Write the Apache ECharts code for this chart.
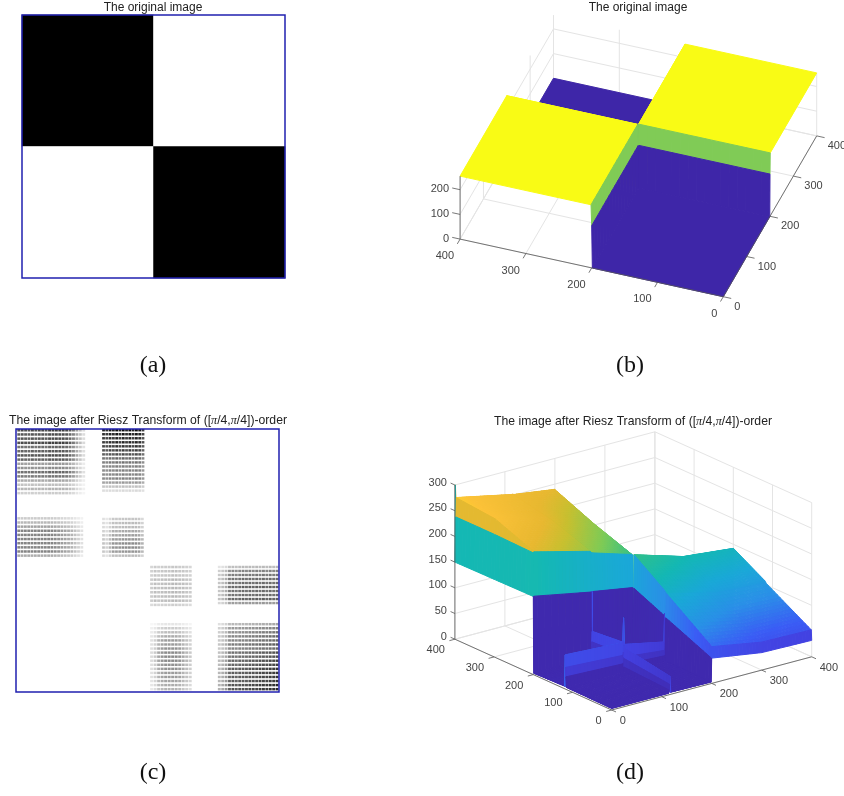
<!DOCTYPE html>
<html><head><meta charset="utf-8">
<style>html,body{margin:0;padding:0;background:#fff}#c{width:844px;height:796px;filter:blur(0.45px)}</style>
<script src="https://cdn.jsdelivr.net/npm/echarts@6/dist/echarts.min.js"></script>
</head><body><div id="c"></div>
<script>
// ---- Panel (a): original image, 2x2 checker
const aCols = ['left', 'right'];
const aRows = ['top', 'bottom'];
const aImage = [[0, 255], [255, 0]];

// ---- Panel (b): surface of the original image
const bA = [0, 199, 200, 201, 400];
const bB = [0, 199, 200, 201, 400];
const bZ = [
  [0, 0, 171, 255, 255],
  [0, 0, 171, 255, 255],
  [171, 171, 0, 255, 255],
  [255, 255, 255, 0, 0],
  [255, 255, 255, 0, 0]
];
const bTicksXY = [0, 100, 200, 300, 400];
const bTicksZ = [0, 100, 200];

// ---- Panel (c): dot blocks [x0,x1,y0,y1], row darkness, column darkness
const cRanges = [[2,106,0,102],[131,196,0,98],[2,103,134,197],[131,195,135,197],[204,268,208,272],[307,400,208,269],[204,268,295,400],[307,400,295,400]];
const cRowLevels = [
  [.75,.7,.7,.75,.6,.65,.7,.65,.4,.45,.6,.55,.35,.25,.3,.2],
  [.95,.9,.85,.85,.8,.75,.7,.6,.55,.5,.5,.5,.5,.4,.25,.15],
  [.25,.35,.45,.6,.6,.6,.6,.6,.6,.4],
  [.3,.35,.35,.45,.5,.55,.6,.6,.55,.35],
  [.4,.45,.45,.5,.5,.5,.5,.5,.5,.35],
  [.3,.55,.6,.65,.65,.7,.65,.65,.7,.45],
  [.15,.3,.4,.5,.6,.6,.65,.7,.7,.7,.65,.65,.6,.6,.55,.5,.45],
  [.35,.5,.55,.6,.6,.65,.6,.7,.7,.75,.75,.8,.8,.8,.8,.85,.85]
];
const cColLevels = [
  [.9,.95,.9,.9,.95,.9,.95,.95,.9,1,1,1,1,1,.95,.85,.7,.5,.35,.2],
  [.9,.85,.95,.9,1,.9,1,.9,1,.9,1,.95,.8],
  [.8,.8,.8,.8,.8,.8,.8,.8,.8,.8,.8,.75,.7,.65,.6,.55,.5,.4,.3,.2],
  [.4,.3,.5,.7,.7,.7,.75,.75,.75,.75,.75,.7,.5],
  [.4,.5,.45,.5,.5,.5,.55,.55,.5,.5,.45,.4],
  [.35,.4,.5,.8,.85,.8,.85,.9,.85,.9,.85,.9,.85,.9,.85,.9,.85,.9],
  [.2,.3,.5,.6,.65,.65,.65,.65,.6,.5,.4,.3],
  [.35,.4,.5,.75,.8,.75,.8,.8,.8,.85,.85,.85,.9,.9,.9,.95,.95,1]
];

// ---- Panel (d): surface after the Riesz transform
const dA = [0, 1, 116, 117, 118, 119, 120, 199, 200, 201, 300, 399, 400];
const dB = [0, 1, 2, 114, 115, 116, 117, 118, 198, 199, 200, 201, 300, 400];
const dZ = [
  [3,3,3,3,9,20,35,4,3,3,49,49,34,32],
  [3,3,3,3,9,20,35,4,3,3,49,71,54,52],
  [4,4,4,4,14,30,50,4,4,4,87,134,110,103],
  [24,24,24,20,20,32,54,18,14,14,88,135,111,104],
  [42,42,42,36,36,42,62,32,24,24,89,136,112,105],
  [66,66,66,60,60,64,108,56,40,95,90,137,113,106],
  [5,5,5,5,16,38,60,5,5,5,90,138,114,107],
  [3,3,3,3,15,34,54,4,3,3,117,181,152,142],
  [152,152,152,131,131,131,131,131,118,117,NaN,181,152,142],
  [152,236,238,210,209,208,207,206,182,181,3,3,3,3],
  [151,238,268,236,236,235,235,235,208,208,3,3,3,3],
  [150,238,275,252,252,252,251,251,240,240,3,3,3,3],
  [150,300,275,252,252,252,251,251,240,240,3,3,3,3]
];
const dTicksXY = [0, 100, 200, 300, 400];
const dTicksZ = [0, 50, 100, 150, 200, 250, 300];

// ---- text
const titleOriginal = 'The original image';
const titleRiesz = '{t|The image after Riesz Transform of ([}{p|π}{t|/4,}{p|π}{t|/4])-order}';
const captions = ['(a)', '(b)', '(c)', '(d)'];

// ---- styling and projection
const parulaStops = [[0,'#3e26a8'],[.1,'#4340e0'],[.2,'#3a5cf5'],[.3,'#2a8fe8'],[.4,'#1aa8d8'],[.5,'#14b8b4'],[.6,'#30c08c'],[.67,'#7fcb56'],[.75,'#c8c030'],[.8,'#e8b830'],[.9,'#fcc238'],[1,'#f9fb15']];
function hex(c){return [1,3,5].map(i=>parseInt(c.substr(i,2),16));}
function parula(t){
  t=Math.max(0,Math.min(1,t));
  for(let i=1;i<parulaStops.length;i++){
    if(t<=parulaStops[i][0]){
      const [p0,c0]=parulaStops[i-1],[p1,c1]=parulaStops[i];
      const f=(t-p0)/(p1-p0),x=hex(c0),y=hex(c1);
      return 'rgb('+x.map((v,k)=>Math.round(v+(y[k]-v)*f)).join(',')+')';
    }
  }
  return parulaStops[parulaStops.length-1][1];
}
const viewB={ua:-.658,va:.144,ub:.2335,vb:.402,vz:.247,top:255,cmax:255,aLab:[-6,17],bLab:[11,10],zLab:[-11,-.5],tick:12};
const viewD={ua:-.392,va:.177,ub:.5,vb:.133,vz:.514,top:300,cmax:300,aLab:[-10,11],bLab:[8,11],zLab:[-8,-2.5],tick:11};
function proj(v,a,b,z){return [a*v.ua+b*v.ub,a*v.va+b*v.vb+z*v.vz];}

function facets(A,B,Z,v){
  const out=[];
  for(let i=A.length-2;i>=0;i--)for(let j=B.length-2;j>=0;j--){
    const z00=Z[i][j],z01=Z[i][j+1],z10=Z[i+1][j],z11=Z[i+1][j+1];
    if([z00,z01,z10,z11].some(isNaN))continue;
    const flat=z00===z01&&z00===z10&&z00===z11;
    const na=!flat&&A[i+1]-A[i]>10?16:1,nb=!flat&&B[j+1]-B[j]>10?16:1;
    const zAt=(s,t)=>(1-s)*(1-t)*z00+(1-s)*t*z01+s*(1-t)*z10+s*t*z11;
    for(let si=na-1;si>=0;si--)for(let sj=nb-1;sj>=0;sj--){
      const s0=si/na,s1=(si+1)/na,t0=sj/nb,t1=(sj+1)/nb;
      const ax=s=>A[i]+(A[i+1]-A[i])*s,bx=t=>B[j]+(B[j+1]-B[j])*t;
      const p=[[s0,t0],[s0,t1],[s1,t1],[s1,t0]].map(([s,t])=>proj(v,ax(s),bx(t),zAt(s,t)));
      out.push([p[0][0],p[0][1],p[1][0],p[1][1],p[2][0],p[2][1],p[3][0],p[3][1],zAt(s0,t0)/v.cmax]);
    }
  }
  return out;
}
function wallLines(ticks,zt,v){
  const L=[],M=ticks[ticks.length-1];
  const add=(a1,b1,z1,a2,b2,z2)=>{L.push([...proj(v,a1,b1,z1),...proj(v,a2,b2,z2)]);};
  ticks.forEach(t=>{
    add(t,0,0,t,M,0); add(0,t,0,M,t,0);
    add(M,t,0,M,t,v.top); add(t,M,0,t,M,v.top);
  });
  zt.forEach(z=>{add(M,0,z,M,M,z);add(0,M,z,M,M,z);});
  return L;
}
function axisLines(ticks,zt,v){
  const L=[],M=ticks[ticks.length-1],k=v.tick;
  const add=(a1,b1,z1,a2,b2,z2)=>{L.push([...proj(v,a1,b1,z1),...proj(v,a2,b2,z2)]);};
  add(0,0,0,M,0,0);add(0,0,0,0,M,0);add(M,0,0,M,0,v.top);
  ticks.forEach(t=>{add(t,0,0,t,-k,0);add(0,t,0,-k,t,0);});
  zt.forEach(z=>add(M,0,z,M+k,0,z));
  return L;
}
function axisLabels(ticks,zt,v){
  const T=[],M=ticks[ticks.length-1];
  ticks.forEach(t=>{
    T.push([...proj(v,t,0,0),String(t),'right',v.aLab[0],v.aLab[1]]);
    T.push([...proj(v,0,t,0),String(t),'left',v.bLab[0],v.bLab[1]]);
  });
  zt.forEach(z=>T.push([...proj(v,M,0,z),String(z),'right',v.zLab[0],v.zLab[1]]));
  return T;
}
function renderFacet(p,api){
  const pts=[0,2,4,6].map(i=>api.coord([api.value(i),api.value(i+1)]));
  const col=parula(api.value(8));
  return {type:'polygon',shape:{points:pts},style:{fill:col,stroke:col,lineWidth:1,lineJoin:'round'}};
}
function lineRenderer(color,w){
  return function(p,api){
    const a=api.coord([api.value(0),api.value(1)]),b=api.coord([api.value(2),api.value(3)]);
    return {type:'line',shape:{x1:a[0],y1:a[1],x2:b[0],y2:b[1]},style:{stroke:color,lineWidth:w}};
  };
}
function renderLabel(p,api){
  const a=api.coord([api.value(0),api.value(1)]);
  return {type:'text',style:{x:a[0]+api.value(4),y:a[1]+api.value(5),text:String(api.value(2)),
    align:api.value(3),verticalAlign:'middle',fill:'#444',font:'11px "Liberation Sans"'}};
}
function dotData(){
  const out=[];
  cRanges.forEach((r,k)=>{
    const rows=cRowLevels[k],cols=cColLevels[k];
    const dx=(r[1]-r[0])/cols.length,dy=(r[3]-r[2])/rows.length;
    rows.forEach((rv,i)=>cols.forEach((cv,j)=>{
      out.push([r[0]+j*dx,r[2]+i*dy,dx*.85,dy*.6,rv*cv]);
    }));
  });
  return out;
}
function renderDot(p,api){
  const a=api.coord([api.value(0),api.value(1)]);
  const b=api.coord([api.value(0)+api.value(2),api.value(1)+api.value(3)]);
  const g=Math.round(255*(1-api.value(4)));
  return {type:'rect',shape:{x:a[0],y:a[1],width:b[0]-a[0],height:b[1]-a[1]},style:{fill:'rgb('+g+','+g+','+g+')'}};
}
const hid={show:false};
const titleStyle={fontFamily:'Liberation Sans',fontSize:12,fontWeight:'normal',color:'#222',
  rich:{t:{fontFamily:'Liberation Sans',fontSize:12.2,color:'#222'},p:{fontFamily:'Liberation Serif',fontStyle:'italic',fontSize:12.2,color:'#222'}}};
const capStyle={fontFamily:'Liberation Serif',fontSize:24,fontWeight:'normal',color:'#111'};
const border='#2020b0';
const lineSeries=(g,data,color,w,z)=>({type:'custom',xAxisIndex:g,yAxisIndex:g,z:z,clip:false,data:data,renderItem:lineRenderer(color,w),silent:true,progressive:0});
const tt=(text,left,top,style)=>({text,left,top,padding:0,textAlign:'center',textStyle:style});

const option={
  animation:false,backgroundColor:'#fff',
  title:[
    tt(titleOriginal,153,2,titleStyle),
    tt(titleOriginal,638,2,titleStyle),
    tt(titleRiesz,148,415,titleStyle),
    tt(titleRiesz,633,416,titleStyle),
    tt(captions[0],153,354,capStyle),
    tt(captions[1],630,354,capStyle),
    tt(captions[2],153,761,capStyle),
    tt(captions[3],630,761,capStyle)
  ],
  grid:[
    {left:22,top:15,width:263,height:263,show:true,z:10,borderColor:border,borderWidth:1.5,backgroundColor:'transparent'},
    {left:443.3,top:16.7,width:400,height:300},
    {left:16,top:429,width:263,height:263,show:true,z:10,borderColor:border,borderWidth:1.5,backgroundColor:'transparent'},
    {left:441.7,top:410,width:400,height:320}
  ],
  xAxis:[
    {gridIndex:0,type:'category',data:aCols,...hid},
    {gridIndex:1,type:'value',min:-280,max:120,...hid},
    {gridIndex:2,type:'value',min:0,max:400,...hid},
    {gridIndex:3,type:'value',min:-170,max:230,...hid}
  ],
  yAxis:[
    {gridIndex:0,type:'category',data:aRows,inverse:true,...hid},
    {gridIndex:1,type:'value',min:-20,max:280,...hid},
    {gridIndex:2,type:'value',min:0,max:400,inverse:true,...hid},
    {gridIndex:3,type:'value',min:-20,max:300,...hid}
  ],
  visualMap:{show:false,seriesIndex:0,min:0,max:255,inRange:{color:['#000','#fff']}},
  series:[
    {type:'heatmap',xAxisIndex:0,yAxisIndex:0,z:2,data:aImage.flatMap((r,i)=>r.map((v,j)=>[j,i,v]))},
    lineSeries(1,wallLines(bTicksXY,bTicksZ,viewB),'#e4e4e4',1,1),
    {type:'custom',xAxisIndex:1,yAxisIndex:1,z:2,clip:false,silent:true,progressive:0,data:facets(bA,bB,bZ,viewB),renderItem:renderFacet},
    lineSeries(1,axisLines(bTicksXY,bTicksZ,viewB),'#555',.8,3),
    {type:'custom',xAxisIndex:1,yAxisIndex:1,z:4,clip:false,silent:true,progressive:0,data:axisLabels(bTicksXY,bTicksZ,viewB),renderItem:renderLabel},
    {type:'custom',xAxisIndex:2,yAxisIndex:2,z:2,clip:true,silent:true,progressive:0,data:dotData(),renderItem:renderDot},
    lineSeries(3,wallLines(dTicksXY,dTicksZ,viewD),'#e4e4e4',1,1),
    {type:'custom',xAxisIndex:3,yAxisIndex:3,z:2,clip:false,silent:true,progressive:0,data:facets(dA,dB,dZ,viewD),renderItem:renderFacet},
    lineSeries(3,axisLines(dTicksXY,dTicksZ,viewD),'#555',.8,3),
    {type:'custom',xAxisIndex:3,yAxisIndex:3,z:4,clip:false,silent:true,progressive:0,data:axisLabels(dTicksXY,dTicksZ,viewD),renderItem:renderLabel}
  ]
};
echarts.init(document.getElementById('c'),null,{renderer:'canvas'}).setOption(option);
</script></body></html>
